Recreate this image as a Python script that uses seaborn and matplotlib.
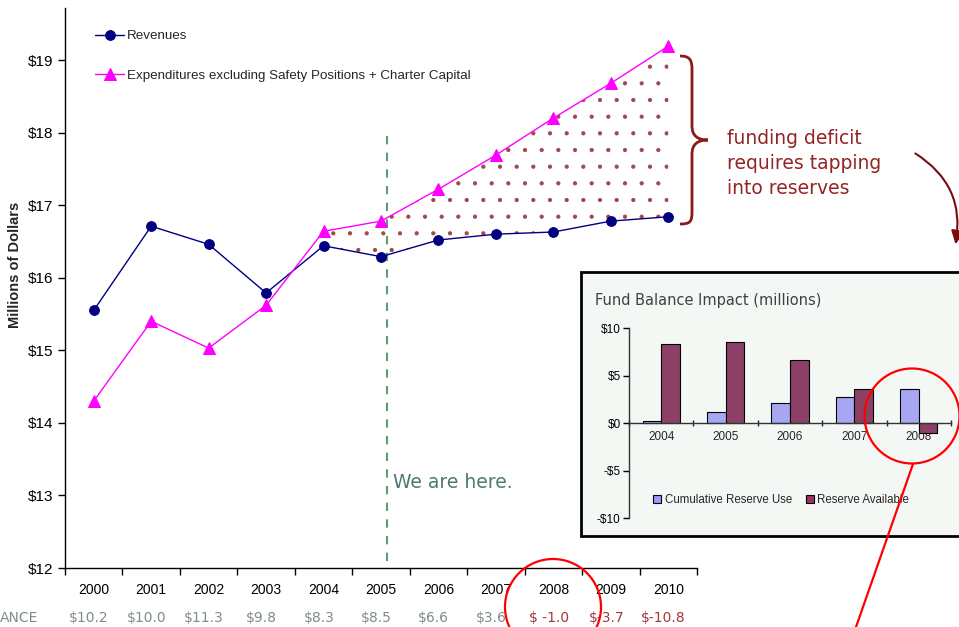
import numpy as np
import pandas as pd
import matplotlib
matplotlib.use("Agg")
import matplotlib.pyplot as plt
import seaborn as sns
from matplotlib.patches import Rectangle, Circle, FancyArrowPatch, PathPatch
from matplotlib.path import Path
from matplotlib.lines import Line2D

# ---------------- data ----------------
years = ["2000", "2001", "2002", "2003", "2004", "2005",
         "2006", "2007", "2008", "2009", "2010"]
revenues = [15.55, 16.71, 16.46, 15.79, 16.44, 16.29,
            16.52, 16.60, 16.63, 16.78, 16.84]
expenditures = [14.30, 15.40, 15.03, 15.62, 16.64, 16.78,
                17.22, 17.69, 18.20, 18.68, 19.19]
fund_balance = ["$10.2", "$10.0", "$11.3", "$9.8", "$8.3", "$8.5",
                "$6.6", "$3.6", "$ -1.0", "$-3.7", "$-10.8"]
y_ticks = [12, 13, 14, 15, 16, 17, 18, 19]
y_tick_labels = ["$12", "$13", "$14", "$15", "$16", "$17", "$18", "$19"]

inset_years = ["2004", "2005", "2006", "2007", "2008"]
cum_reserve_use = [0.2, 1.2, 2.1, 2.7, 3.6]
reserve_available = [8.3, 8.5, 6.6, 3.6, -1.0]
inset_y_ticks = [-10, -5, 0, 5, 10]
inset_y_labels = ["-$10", "-$5", "$0", "$5", "$10"]

sns.set_style("white")
plt.rcParams["font.family"] = ["Liberation Sans", "DejaVu Sans"]
plt.rcParams["hatch.linewidth"] = 0.6

W, H = 959, 627
fig = plt.figure(figsize=(W / 100, H / 100), dpi=100)
T = fig.dpi_scale_trans


def P(x, y):
    return (x / 100.0, (H - y) / 100.0)


# ---------------- main chart ----------------
ax = fig.add_axes([65 / W, 1 - 568 / H, (697 - 65) / W, (568 - 8) / H])
ax.set_facecolor("none")
ax.set_zorder(0)
xpos = np.arange(len(years))
df = pd.DataFrame({"x": xpos, "rev": revenues, "exp": expenditures})

ax.fill_between(xpos[4:], np.array(revenues[4:]), np.array(expenditures[4:]),
                facecolor="none", edgecolor="#a04848", hatch=".",
                linewidth=0, zorder=1)
sns.lineplot(data=df, x="x", y="rev", ax=ax, color="#000080", lw=1,
             marker="o", markersize=7, markeredgecolor="#000080",
             label="Revenues", zorder=3)
sns.lineplot(data=df, x="x", y="exp", ax=ax, color="#ff00ff", lw=1,
             marker="^", markersize=9, markeredgecolor="#ff00ff",
             label="Expenditures excluding Safety Positions + Charter Capital",
             zorder=3)

ax.set_xlim(-0.5, len(years) - 0.5)
ax.set_ylim(12, 12 + 560 / 72.57)
ax.set_xticks(xpos, years)
ax.set_xticks(np.arange(-0.5, len(years), 1.0), minor=True)
ax.tick_params(axis="x", which="major", length=0, pad=11, labelsize=10,
               colors="black")
ax.tick_params(axis="x", which="minor", length=5, direction="out",
               width=1, color="black", bottom=True)
ax.set_yticks(y_ticks, y_tick_labels)
ax.tick_params(axis="y", which="major", length=5, direction="out",
               width=1, labelsize=11, left=True, colors="black")
ax.set_xlabel("")
ax.set_ylabel("")
for s in ["top", "right"]:
    ax.spines[s].set_visible(False)
for s in ["left", "bottom"]:
    ax.spines[s].set_color("black")
    ax.spines[s].set_linewidth(1)

leg = ax.legend(loc="upper left", bbox_to_anchor=P(95, 30),
                bbox_transform=T, frameon=False, fontsize=9.6,
                labelspacing=2.05, handlelength=2.2, handletextpad=0.2,
                borderpad=0, borderaxespad=0)

# dashed "We are here" line
ax.plot([5.1, 5.1], [12.1, 18.06], ls=(0, (4, 4)), color="#5e9e6e",
        lw=1.5, zorder=2)
fig.text(*P(393, 482), "We are here.", transform=T, ha="left", va="center",
         fontsize=13.5, color="#4d7a6b", family="DejaVu Sans")

# fund balance row
xt = ax.get_xaxis_transform()
for i, lab in enumerate(fund_balance):
    col = "#a33a3a" if "-" in lab else "#7f8c8c"
    ax.text(i - 0.08, (568 - 618) / 560, lab, transform=xt, ha="center",
            va="center", fontsize=10, color=col, family="DejaVu Sans",
            clip_on=False)
fig.text(*P(0, 618), "ANCE", transform=T, ha="left", va="center",
         fontsize=10, color="#7f8c8c", family="DejaVu Sans")

fig.text(*P(15, 265), "Millions of Dollars", transform=T, rotation=90,
         ha="center", va="center", fontsize=10.5, fontweight="bold")

# brace
bx = [(680, 56), (690, 56), (692, 60), (692, 70), (692, 126),
      (692, 136), (698, 140), (708, 140), (698, 140), (692, 144),
      (692, 154), (692, 212), (692, 222), (690, 224), (680, 224)]
codes = [Path.MOVETO, Path.CURVE4, Path.CURVE4, Path.CURVE4, Path.LINETO,
         Path.CURVE4, Path.CURVE4, Path.CURVE4, Path.CURVE4, Path.CURVE4,
         Path.CURVE4, Path.LINETO, Path.CURVE4, Path.CURVE4, Path.CURVE4]
brace = PathPatch(Path([P(*p) for p in bx], codes), transform=T,
                  facecolor="none", edgecolor="#8b1a1a", lw=2)
fig.add_artist(brace)
for k, line in enumerate(["funding deficit", "requires tapping",
                          "into reserves"]):
    fig.text(*P(727, 138 + 25 * k), line, transform=T, ha="left",
             va="center", fontsize=13.5, color="#952424",
             family="DejaVu Sans")

arrow = FancyArrowPatch(P(913, 152), P(955, 247), transform=T,
                        connectionstyle="arc3,rad=-0.35",
                        arrowstyle="-|>,head_length=8,head_width=4",
                        color="#7a0c0c", lw=1.5)
fig.add_artist(arrow)

# ---------------- inset ----------------
bg = Rectangle(P(581, 536), (980 - 581) / 100, (536 - 272) / 100,
               transform=T, facecolor="#f4f8f4", edgecolor="black", lw=2,
               zorder=1)
fig.add_artist(bg)
fig.text(*P(595, 300), "Fund Balance Impact (millions)", transform=T,
         ha="left", va="center", fontsize=10.5, color="#404040",
         family="DejaVu Sans", zorder=3)

axin = fig.add_axes([629 / W, 1 - 518 / H, (951 - 629) / W, (518 - 328) / H])
axin.set_facecolor("none")
axin.set_zorder(2)
idf = pd.DataFrame({
    "year": inset_years * 2,
    "series": ["Cumulative Reserve Use"] * 5 + ["Reserve Available"] * 5,
    "value": cum_reserve_use + reserve_available,
})
sns.barplot(data=idf, x="year", y="value", hue="series",
            palette=["#9999ff", "#993366"], width=0.58, edgecolor="black",
            linewidth=0.8, ax=axin, legend=False)
axin.set_ylim(-10, 10)
axin.set_xlim(-0.5, 4.5)
axin.set_yticks(inset_y_ticks, inset_y_labels)
axin.tick_params(axis="y", length=4, direction="out", labelsize=8.5,
                 left=True, width=1, colors="black", pad=2)
axin.set_xticks(range(5), inset_years)
axin.set_xticks(np.arange(-0.5, 5, 1.0), minor=True)
axin.tick_params(axis="x", which="major", length=0, labelsize=8.5, pad=6)
axin.tick_params(axis="x", which="minor", length=5, direction="inout",
                 bottom=True, width=1)
axin.spines["bottom"].set_position(("data", 0))
for s in ["top", "right"]:
    axin.spines[s].set_visible(False)
for s in ["left", "bottom"]:
    axin.spines[s].set_color("#333333")
    axin.spines[s].set_linewidth(1)
axin.set_xlabel("")
axin.set_ylabel("")
handles = [Rectangle((0, 0), 1, 1, facecolor="#9999ff", edgecolor="black",
                     lw=0.8),
           Rectangle((0, 0), 1, 1, facecolor="#993366", edgecolor="black",
                     lw=0.8)]
axin.legend(handles, ["Cumulative Reserve Use", "Reserve Available"],
            loc="center left", bbox_to_anchor=P(653, 500),
            bbox_transform=T, ncol=2, frameon=False, fontsize=8.3,
            handlelength=0.7, handleheight=0.7, handletextpad=0.3,
            columnspacing=1.2, borderpad=0, borderaxespad=0)

# ---------------- red circles ----------------
fig.add_artist(Circle(P(553, 607), 0.48, transform=T, facecolor="none",
                      edgecolor="red", lw=1.6, zorder=10))
fig.add_artist(Circle(P(912, 416), 0.475, transform=T, facecolor="none",
                      edgecolor="red", lw=1.6, zorder=10))
fig.add_artist(Line2D([P(913, 464)[0], P(856, 627)[0]],
                      [P(913, 464)[1], P(856, 627)[1]], transform=T,
                      color="red", lw=1.6, zorder=10))

fig.savefig("out.png", dpi=100)
